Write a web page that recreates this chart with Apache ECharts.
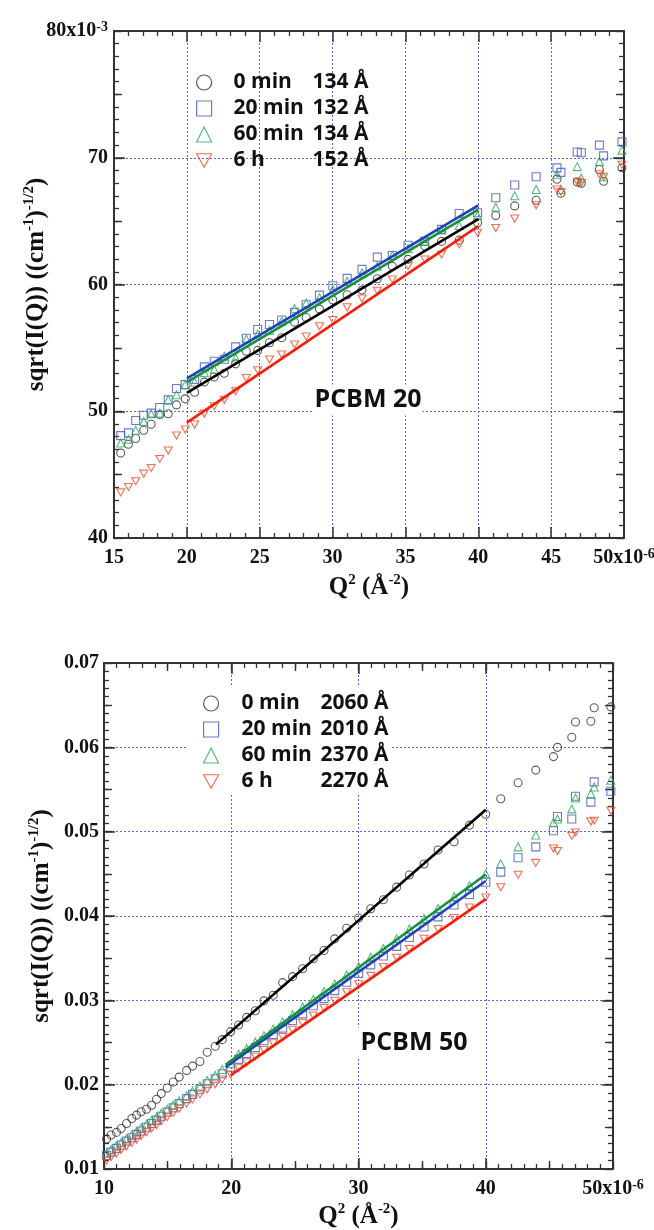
<!DOCTYPE html>
<html><head><meta charset="utf-8">
<script src="https://cdn.jsdelivr.net/npm/echarts@6/dist/echarts.min.js"></script>
<style>html,body{margin:0;padding:0;background:#fff}#c{width:654px;height:1230px}</style>
</head><body><div id="c"></div>
<script>
// ---------- PCBM 20 (top panel); Q^2 in 1e-6 A^-2, sqrt(I) in 1e-3 ----------
const q2_20 = [15.46, 15.99, 16.49, 17.04, 17.55, 18.14, 18.72, 19.29, 19.89, 20.53, 21.2, 21.88, 22.57, 23.35, 24.08, 24.86, 25.67, 26.51, 27.39, 28.19, 29.1, 30.02, 31.0, 32.02, 33.07, 34.1, 35.18, 36.33, 37.48, 38.69, 39.95, 41.2, 42.5, 43.97, 45.4, 45.67, 46.79, 47.07, 48.31, 48.6, 49.86];
const p20_0min = [46.7, 47.4, 47.85, 48.5, 48.98, 49.74, 49.8, 50.5, 50.98, 51.5, 52.3, 52.7, 53.0, 53.74, 54.74, 54.8, 55.4, 55.8, 57.03, 57.4, 58.06, 58.77, 59.19, 59.56, 60.45, 61.45, 61.98, 63.03, 63.4, 63.5, 64.87, 65.45, 66.2, 66.65, 68.3, 67.2, 68.08, 67.98, 69.08, 68.15, 69.2];
const p20_20min = [48.08, 48.29, 49.27, 49.69, 49.85, 50.3, 50.9, 51.8, 52.1, 52.5, 53.5, 53.95, 54.1, 55.08, 55.76, 56.45, 56.85, 57.2, 57.8, 58.4, 59.16, 59.9, 60.48, 61.19, 62.16, 62.29, 63.1, 63.4, 64.35, 65.6, 65.66, 66.85, 67.85, 68.5, 69.2, 68.85, 70.45, 70.4, 71.0, 70.15, 71.25];
const p20_60min = [47.5, 47.8, 48.5, 49.2, 49.8, 49.85, 50.9, 51.3, 52.1, 52.3, 53.05, 53.3, 54.35, 54.2, 55.7, 56.1, 56.4, 57.1, 58.1, 58.55, 58.95, 59.6, 60.25, 60.9, 61.45, 62.3, 62.85, 63.4, 64.3, 64.65, 65.45, 66.1, 67.0, 67.5, 68.7, 67.5, 69.3, 68.4, 69.7, 68.5, 70.6];
const p20_6h = [43.6, 44.03, 44.48, 45.08, 45.53, 46.24, 46.9, 48.08, 48.56, 48.95, 49.82, 50.4, 50.9, 51.58, 52.63, 53.24, 54.08, 54.48, 55.27, 55.9, 56.7, 57.19, 58.2, 58.9, 59.5, 60.4, 61.45, 61.98, 62.37, 63.16, 64.08, 64.45, 65.2, 66.25, 67.5, 67.3, 68.1, 68.0, 68.7, 68.5, 69.45];
const fitQ2_20 = [20, 40];
const fit20_0min = [51.45, 65.15];
const fit20_20min = [52.6, 66.25];
const fit20_60min = [52.3, 65.9];
const fit20_6h = [49.1, 64.6];

// ---------- PCBM 50 (bottom panel); Q^2 in 1e-6 A^-2, sqrt(I) in 1e-3 ----------
const q2_50 = [10.2, 10.56, 10.98, 11.35, 11.77, 12.19, 12.56, 12.92, 13.34, 13.74, 14.13, 14.5, 14.97, 15.44, 15.91, 16.49, 16.96, 17.54, 18.11, 18.74, 19.29, 19.95, 20.58, 21.21, 21.89, 22.57, 23.3, 24.04, 24.82, 25.61, 26.45, 27.29, 28.13, 29.07, 30.01, 30.96, 31.95, 33.0, 34.0, 35.15, 36.25, 37.51, 38.72, 40.0, 41.18, 42.54, 43.93, 45.32, 45.64, 46.76, 47.05, 48.26, 48.52, 49.83];
const p50_0min = [13.56, 14.03, 14.34, 14.81, 15.4, 15.99, 16.39, 16.78, 17.09, 17.56, 18.27, 18.94, 19.61, 20.31, 20.9, 21.69, 22.2, 22.75, 23.85, 24.56, 25.34, 26.29, 27.07, 27.98, 28.76, 29.94, 30.61, 32.1, 32.81, 33.75, 34.93, 35.91, 37.29, 38.55, 39.76, 40.86, 41.93, 43.42, 44.87, 46.17, 47.82, 48.8, 50.77, 52.06, 53.9, 55.8, 57.3, 58.9, 60.0, 61.2, 63.0, 63.1, 64.7, 64.8];
const p50_20min = [11.6, 12.0, 12.45, 12.85, 13.3, 13.7, 14.1, 14.5, 14.95, 15.4, 15.8, 16.25, 16.75, 17.25, 17.75, 18.35, 18.85, 19.45, 20.1, 20.7, 21.3, 22.0, 23.0, 23.7, 24.4, 25.2, 25.95, 26.7, 27.6, 28.4, 29.35, 30.2, 31.15, 32.15, 33.2, 34.2, 35.25, 36.4, 37.45, 38.7, 39.9, 41.3, 42.55, 44.0, 45.2, 46.9, 48.2, 50.1, 51.8, 51.5, 54.2, 53.5, 55.9, 54.8];
const p50_60min = [11.9, 12.3, 12.75, 13.15, 13.6, 14.05, 14.45, 14.85, 15.3, 15.75, 16.15, 16.6, 17.1, 17.6, 18.1, 18.7, 19.25, 19.85, 20.5, 21.1, 21.8, 22.5, 23.6, 24.3, 25.05, 25.8, 26.6, 27.45, 28.3, 29.2, 30.1, 31.05, 31.95, 33.0, 34.0, 35.1, 36.15, 37.3, 38.45, 39.7, 40.9, 42.3, 43.6, 45.0, 46.2, 48.2, 49.6, 51.1, 51.5, 52.7, 54.0, 54.5, 55.3, 56.1];
const p50_6h = [11.0, 11.4, 11.85, 12.25, 12.7, 13.1, 13.5, 13.9, 14.35, 14.8, 15.2, 15.65, 16.15, 16.65, 17.15, 17.75, 18.25, 18.85, 19.45, 20.05, 20.6, 21.2, 21.95, 22.65, 23.35, 24.1, 24.9, 25.65, 26.5, 27.3, 28.2, 29.1, 29.95, 30.95, 31.9, 32.9, 33.95, 35.05, 36.1, 37.3, 38.45, 39.75, 41.0, 42.2, 43.4, 44.9, 46.3, 48.0, 47.7, 49.5, 49.9, 51.2, 51.3, 52.5];
const fitQ2_50_0min = [18.8, 40];
const fit50_0min = [24.76, 52.6];
const fitQ2_50_20min = [19.55, 40];
const fit50_20min = [22.08, 44.15];
const fitQ2_50_60min = [19.55, 40];
const fit50_60min = [22.36, 44.92];
const fitQ2_50_6h = [19.95, 40];
const fit50_6h = [21.1, 42.0];

// ---------- labels ----------
const timeLabels = ['0 min', '20 min', '60 min', '6 h'];
const sizes20 = ['134 Å', '132 Å', '134 Å', '152 Å'];
const sizes50 = ['2060 Å', '2010 Å', '2370 Å', '2270 Å'];
const xTicks20 = [15, 20, 25, 30, 35, 40, 45, 50];
const xLabels20 = ['15', '20', '25', '30', '35', '40', '45', '50x10'];
const xSups20 = ['', '', '', '', '', '', '', '-6'];
const yTicks20 = [40, 50, 60, 70, 80];
const yLabels20 = ['40', '50', '60', '70', '80x10'];
const ySups20 = ['', '', '', '', '-3'];
const xTicks50 = [10, 20, 30, 40, 50];
const xLabels50 = ['10', '20', '30', '40', '50x10'];
const xSups50 = ['', '', '', '', '-6'];
const yTicks50 = [10, 20, 30, 40, 50, 60, 70];
const yLabels50 = ['0.01', '0.02', '0.03', '0.04', '0.05', '0.06', '0.07'];
const panelLabels = ['PCBM 20', 'PCBM 50'];

// ---------- styling ----------
const SERIF = '"Liberation Serif", "Times New Roman", serif';
const SANS = '"Open Sans", sans-serif';
const AX = '#333';
const GRIDC = '#6464cc';
const markerColors = ['#333333', '#4659c6', '#2ea85a', '#f24c2a'];
const lineColors = ['#000000', '#2440b8', '#13923e', '#f0200c'];
const symbols = ['circle', 'rect', 'triangle', 'path://M0,0L10,0L5,9Z'];

const richTick = {
  n: {fontFamily: SERIF, fontWeight: 'bold', fontSize: 20, lineHeight: 22, color: '#111'},
  s: {fontFamily: SERIF, fontWeight: 'bold', fontSize: 14, lineHeight: 10, verticalAlign: 'top', color: '#111'}
};
const richName = {
  n: {fontFamily: SERIF, fontWeight: 'bold', fontSize: 25, lineHeight: 30, color: '#111'},
  s: {fontFamily: SERIF, fontWeight: 'bold', fontSize: 15, lineHeight: 10, verticalAlign: 'top', color: '#111'}
};
function tickFmt(ticks, labels, sups) {
  return function (v) {
    const i = ticks.indexOf(v);
    if (i < 0) return '';
    return '{n|' + labels[i] + '}' + (sups && sups[i] ? '{s|' + sups[i] + '}' : '');
  };
}
function axis(gridIndex, position, min, max, interval, extra) {
  return Object.assign({
    type: 'value', gridIndex, position, min, max, interval,
    axisLine: {show: true, onZero: false, lineStyle: {color: AX, width: 2}},
    axisTick: {show: true, inside: true, length: 11, lineStyle: {color: AX, width: 1.5}},
    minorTick: {show: false},
    axisLabel: {show: false},
    splitLine: {show: false},
    axisPointer: {show: false}
  }, extra || {});
}
function minor(n) { return {show: true, splitNumber: n, length: 5, lineStyle: {color: AX, width: 1.3}}; }
function medium(gridIndex, position, min, max) {
  return axis(gridIndex, position, min, max, 5, {
    axisLine: {show: false},
    axisTick: {show: true, inside: true, length: 8, lineStyle: {color: AX, width: 1.4}}
  });
}
const split = {show: true, lineStyle: {type: [2, 2], color: GRIDC, width: 1}};
const xName = '{n|Q}{s|2}{n| (Å}{s|-2}{n|)}';
const yName = '{n|sqrt(I(Q)) ((cm}{s|-1}{n|)}{s|-1/2}{n|)}';

const xAxes = [
  axis(0, 'bottom', 15, 50, 5, {minorTick: minor(5), splitLine: split,
    axisLabel: {show: true, margin: 9, formatter: tickFmt(xTicks20, xLabels20, xSups20), rich: richTick},
    name: xName, nameLocation: 'middle', nameGap: 35, nameMoveOverlap: false, nameTextStyle: {rich: richName}}),
  axis(0, 'top', 15, 50, 5, {minorTick: minor(5)}),
  axis(1, 'bottom', 10, 50, 10, {minorTick: minor(10), splitLine: split,
    axisLabel: {show: true, margin: 9, formatter: tickFmt(xTicks50, xLabels50, xSups50), rich: richTick},
    name: xName, nameLocation: 'middle', nameGap: 33, nameMoveOverlap: false, nameTextStyle: {rich: richName}}),
  axis(1, 'top', 10, 50, 10, {minorTick: minor(10)}),
  medium(1, 'bottom', 10, 50),
  medium(1, 'top', 10, 50)
];
const yAxes = [
  axis(0, 'left', 40, 80, 10, {minorTick: minor(10), splitLine: split,
    axisLabel: {show: true, margin: 6, formatter: tickFmt(yTicks20, yLabels20, ySups20), rich: richTick},
    name: yName, nameLocation: 'middle', nameRotate: 90, nameGap: 62, nameMoveOverlap: false, nameTextStyle: {rich: richName}}),
  axis(0, 'right', 40, 80, 10, {minorTick: minor(10)}),
  medium(0, 'left', 40, 80),
  medium(0, 'right', 40, 80),
  axis(1, 'left', 10, 70, 10, {minorTick: minor(10), splitLine: split,
    axisLabel: {show: true, margin: 5, formatter: tickFmt(yTicks50, yLabels50, null), rich: richTick},
    name: yName, nameLocation: 'middle', nameRotate: 90, nameGap: 47, nameMoveOverlap: false, nameTextStyle: {rich: richName}}),
  axis(1, 'right', 10, 70, 10, {minorTick: minor(10)}),
  medium(1, 'left', 10, 70),
  medium(1, 'right', 10, 70)
];

const zip = (xs, ys) => xs.map((x, i) => [x, ys[i]]);
const keys20 = timeLabels.map(t => 'PCBM20 ' + t);
const keys50 = timeLabels.map(t => 'PCBM50 ' + t);
const pts20 = [p20_0min, p20_20min, p20_60min, p20_6h];
const pts50 = [p50_0min, p50_20min, p50_60min, p50_6h];
const fits20 = [[fitQ2_20, fit20_0min], [fitQ2_20, fit20_20min], [fitQ2_20, fit20_60min], [fitQ2_20, fit20_6h]];
const fits50 = [[fitQ2_50_0min, fit50_0min], [fitQ2_50_20min, fit50_20min], [fitQ2_50_60min, fit50_60min], [fitQ2_50_6h, fit50_6h]];

const series = [];
function addPanel(keys, xs, pts, fits, xi, yi) {
  pts.forEach((ys, i) => {
    series.push({
      type: 'scatter', name: keys[i], xAxisIndex: xi, yAxisIndex: yi,
      data: zip(xs, ys), symbol: symbols[i], symbolSize: i === 3 ? [8, 7] : 8,
      itemStyle: {color: 'rgba(0,0,0,0)', borderColor: markerColors[i], borderWidth: 1.1},
      z: 3, silent: true
    });
  });
  [1, 2, 0, 3].forEach(i => {
    series.push({
      type: 'line', name: 'fit ' + keys[i], xAxisIndex: xi, yAxisIndex: yi,
      data: zip(fits[i][0], fits[i][1]), showSymbol: false, symbol: 'none',
      lineStyle: {color: lineColors[i], width: 2.6}, z: 4, silent: true
    });
  });
}
addPanel(keys20, q2_20, pts20, fits20, 0, 0);
addPanel(keys50, q2_50, pts50, fits50, 2, 4);

function legendRich() {
  return {
    a: {fontFamily: SANS, fontWeight: 'bold', fontSize: 21, lineHeight: 25, width: 79, color: '#111'},
    b: {fontFamily: SANS, fontWeight: 'bold', fontSize: 21, lineHeight: 25, color: '#111'}
  };
}

const option = {
  animation: false,
  backgroundColor: '#fff',
  grid: [
    {left: 114, top: 31, width: 510, height: 507, outerBoundsMode: 'none', containLabel: false},
    {left: 104, top: 663, width: 509, height: 506, outerBoundsMode: 'none', containLabel: false}
  ],
  xAxis: xAxes,
  yAxis: yAxes,
  legend: [
    {data: keys20, orient: 'vertical', left: 196, top: 72, padding: 0, itemGap: 5,
     itemWidth: 15, itemHeight: 15, selectedMode: false,
     itemStyle: {borderWidth: 1.2},
     formatter: name => { const i = keys20.indexOf(name); return '{a|' + timeLabels[i] + '}{b|' + sizes20[i] + '}'; },
     textStyle: {padding: [0, 0, 0, 17], rich: legendRich()}},
    {data: keys50, orient: 'vertical', left: 187, top: 687, padding: [6, 2, 1, 16], itemGap: 5,
     itemWidth: 15, itemHeight: 15, selectedMode: false, backgroundColor: '#fff',
     itemStyle: {borderWidth: 1.2},
     formatter: name => { const i = keys50.indexOf(name); return '{a|' + timeLabels[i] + '}{b|' + sizes50[i] + '}'; },
     textStyle: {padding: [0, 0, 0, 18], rich: legendRich()}}
  ],
  graphic: [
    {type: 'text', x: 368, y: 400, z: 10, silent: true,
     style: {text: panelLabels[0], font: 'bold 25px "Open Sans"', fill: '#111', align: 'center', verticalAlign: 'middle', backgroundColor: '#fff', padding: [3, 1, 3, 1]}},
    {type: 'text', x: 414, y: 1043, z: 10, silent: true,
     style: {text: panelLabels[1], font: 'bold 25px "Open Sans"', fill: '#111', align: 'center', verticalAlign: 'middle', backgroundColor: '#fff', padding: [3, 3, 3, 3]}}
  ],
  series
};
const chart = echarts.init(document.getElementById('c'));
chart.setOption(option);
</script>
</body></html>
